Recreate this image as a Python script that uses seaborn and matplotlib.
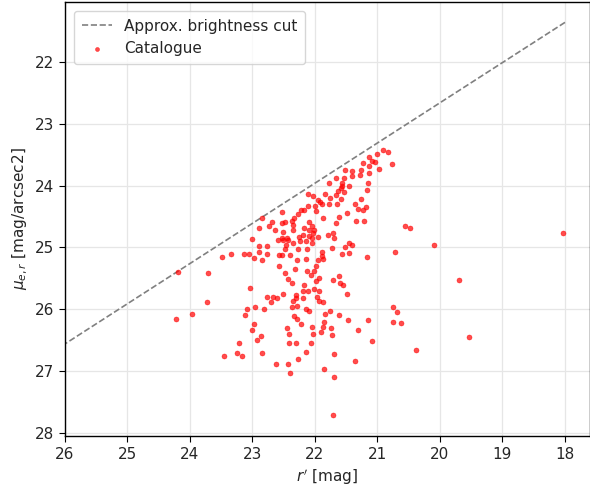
import numpy as np
import pandas as pd
import matplotlib
matplotlib.use("Agg")
import matplotlib.pyplot as plt
import seaborn as sns

# r' magnitudes of catalogue objects
r_mag = [
    22.84, 22.89, 22.74, 22.69, 22.64, 23.00,
    20.91, 20.83, 21.00, 21.13, 21.09, 21.04, 21.23, 21.14, 20.98, 21.26,
    21.41, 21.52, 21.14, 21.28, 21.40, 21.53, 21.66, 21.77, 21.57, 21.56,
    21.59, 21.45, 21.15, 21.17, 21.54, 21.63, 21.66, 21.76, 21.84, 22.03,
    22.11, 21.95, 21.92, 21.89, 21.77, 21.59, 21.65, 21.26, 21.36, 21.31,
    21.18, 21.23, 21.21, 21.34, 21.49, 21.62, 21.66, 21.87, 21.99, 22.00,
    22.11, 22.17, 22.23, 22.27, 22.53, 22.33, 22.36, 22.48, 22.53, 22.10,
    22.05, 22.17, 22.35, 22.35, 22.09, 22.02, 22.53, 22.45, 22.25, 22.19,
    22.09, 22.05, 21.95, 21.79, 21.71, 21.69, 22.03, 22.51,
    20.77, 20.56, 20.48,
    22.89, 22.77, 22.89, 22.76, 22.59, 22.58, 22.57, 23.13, 23.05, 22.97,
    22.85, 23.35, 23.49, 24.19, 23.71, 23.04, 22.77, 22.67, 22.70, 22.60,
    23.72, 23.08, 22.96, 22.82, 23.12, 23.97, 24.22, 22.98, 23.00,
    22.51, 22.43, 22.35, 22.46, 22.24, 22.14, 22.04, 22.13, 22.27, 22.48,
    22.40, 22.53, 21.89, 21.88, 21.73, 21.52, 21.45, 21.40, 21.57, 21.46,
    21.16, 21.95, 21.87, 22.14, 22.28, 22.32, 21.98, 22.02, 22.13, 22.07,
    22.48, 22.43, 22.37, 21.93, 21.98, 21.71, 21.62, 21.60, 21.55, 22.17,
    22.19, 22.11, 22.01, 21.93, 21.49, 22.51, 22.30, 22.30, 22.19, 21.96,
    21.93, 21.87, 22.35, 22.29, 22.37, 22.14, 22.09, 21.84, 21.76, 21.61,
    22.33, 22.29, 22.22, 21.85, 21.47, 21.15, 22.45, 22.04, 21.87, 21.74,
    21.31,
    20.10, 20.72, 19.69, 20.75, 20.69, 20.75, 20.62,
    22.87, 22.93, 23.22, 23.24, 23.17, 23.45, 22.84, 22.62,
    22.42, 22.03, 21.90, 21.73, 22.42, 22.30, 22.06, 22.15, 21.70, 21.09,
    22.27, 22.43, 21.36, 22.40, 21.86, 21.70, 21.71,
    20.38, 19.54, 18.03,
]

# effective surface brightness mu_e,r
mu_e = [
    24.52, 24.69, 24.65, 24.59, 24.72, 24.86,
    23.42, 23.45, 23.49, 23.54, 23.60, 23.62, 23.64, 23.68, 23.73, 23.75,
    23.76, 23.74, 23.79, 23.83, 23.84, 23.88, 23.87, 23.95, 23.96, 24.01,
    24.04, 24.01, 23.96, 24.07, 24.11, 24.08, 24.15, 24.20, 24.14, 24.17,
    24.14, 24.23, 24.26, 24.30, 24.29, 24.21, 24.30, 24.21, 24.29, 24.38,
    24.35, 24.39, 24.57, 24.57, 24.45, 24.50, 24.60, 24.53, 24.41, 24.33,
    24.33, 24.39, 24.39, 24.46, 24.42, 24.53, 24.57, 24.58, 24.60, 24.58,
    24.65, 24.69, 24.64, 24.71, 24.72, 24.71, 24.85, 24.84, 24.83, 24.80,
    24.82, 24.84, 24.83, 24.80, 24.77, 24.84, 24.77, 24.75,
    23.65, 24.65, 24.69,
    24.97, 24.97, 25.07, 25.11, 24.88, 25.12, 25.30, 25.11, 25.11, 25.17,
    25.20, 25.10, 25.16, 25.39, 25.42, 25.65, 25.80, 25.80, 25.88, 25.82,
    25.88, 26.00, 25.97, 26.00, 26.09, 26.08, 26.16, 26.23, 26.33,
    24.88, 24.88, 24.93, 24.96, 24.89, 24.89, 24.92, 25.03, 25.03, 25.03,
    25.12, 25.12, 25.07, 25.14, 25.01, 24.99, 24.92, 24.96, 25.10, 25.09,
    25.16, 25.20, 25.19, 25.19, 25.20, 25.35, 25.30, 25.38, 25.38, 25.45,
    25.42, 25.51, 25.57, 25.49, 25.55, 25.53, 25.46, 25.57, 25.61, 25.61,
    25.71, 25.71, 25.67, 25.70, 25.76, 25.76, 25.77, 25.81, 25.82, 25.80,
    25.87, 25.88, 25.87, 25.94, 25.97, 25.99, 26.02, 26.07, 26.03, 26.09,
    26.11, 26.15, 26.23, 26.20, 26.17, 26.17, 26.31, 26.29, 26.29, 26.31,
    26.33,
    24.96, 25.08, 25.53, 25.96, 26.05, 26.20, 26.22,
    26.43, 26.49, 26.54, 26.71, 26.75, 26.75, 26.71, 26.89,
    26.40, 26.40, 26.37, 26.41, 26.55, 26.54, 26.54, 26.69, 26.72, 26.51,
    26.81, 26.89, 26.84, 27.03, 26.96, 27.09, 27.71,
    26.66, 26.45, 24.76,
]

# approximate brightness cut (line end points)
cut_r = [26.0, 18.0]
cut_mu = [26.56, 21.36]

df = pd.DataFrame({"r": r_mag, "mu": mu_e})
cut = pd.DataFrame({"r": cut_r, "mu": cut_mu})

sns.set_style("ticks")
plt.rcParams['font.family'] = ['DejaVu Sans']

fig = plt.figure(figsize=(5.9, 4.9), dpi=100)
ax = fig.add_axes([0.110, 0.110, 0.890, 0.886])

sns.lineplot(data=cut, x="r", y="mu", ax=ax, color="gray", linestyle="--",
             linewidth=1.2, label="Approx. brightness cut")
sns.scatterplot(data=df, x="r", y="mu", ax=ax, color="red", alpha=0.7, s=13,
                edgecolor="red", linewidth=0.4, label="Catalogue", zorder=3)

ax.set_xlim(26, 17.6)
ax.set_ylim(28.05, 21.03)
ax.set_xticks(np.arange(26, 17, -1))
ax.set_yticks(np.arange(22, 29, 1))
ax.grid(True, color="#e6e6e6", linewidth=0.9)
ax.set_axisbelow(True)
ax.tick_params(labelsize=11, direction="out", length=4, color="black")
for s in ax.spines.values():
    s.set_color("black")
    s.set_linewidth(1.0)

ax.set_xlabel(r"$r'$ [mag]", fontsize=11)
ax.set_ylabel(r"$\mu_{e,r}$ [mag/arcsec2]", fontsize=11)
ax.legend(loc="upper left", fontsize=11, frameon=True, markerscale=0.8,
          borderaxespad=0.6, borderpad=0.5)

fig.savefig("out.png", dpi=100)
